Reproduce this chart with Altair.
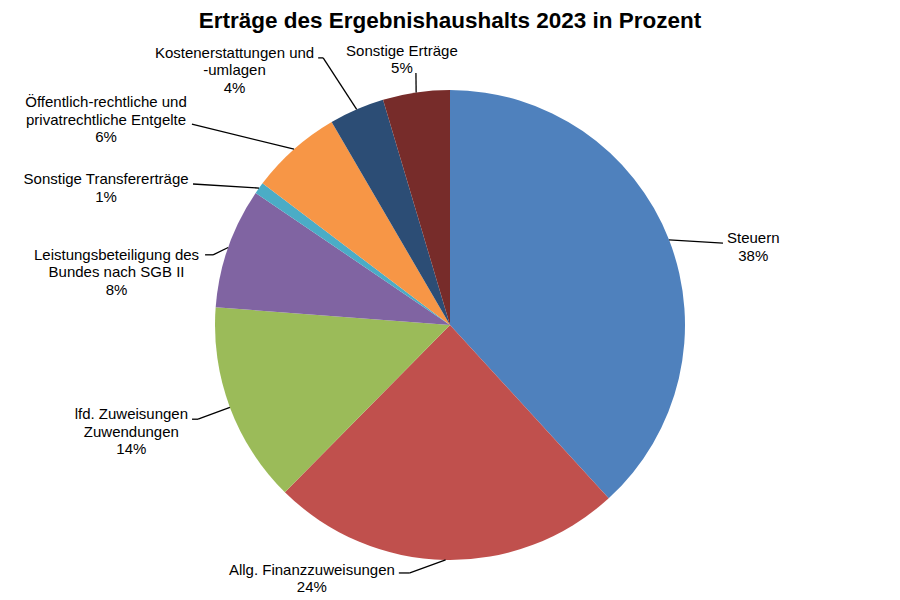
import math
import altair as alt
import pandas as pd

# ---------------- data ----------------
title_text = "Erträge des Ergebnishaushalts 2023 in Prozent"
categories = [
    "Steuern",
    "Allg. Finanzzuweisungen",
    "lfd. Zuweisungen\nZuwendungen",
    "Leistungsbeteiligung des\nBundes nach SGB II",
    "Sonstige Transfererträge",
    "Öffentlich-rechtliche und\nprivatrechtliche Entgelte",
    "Kostenerstattungen und\n-umlagen",
    "Sonstige Erträge",
]
values = [38.2, 24.2, 13.8, 8.3, 0.8, 6.3, 3.8, 4.6]
colors = ["#4F81BD", "#C0504D", "#9BBB59", "#8064A2",
          "#4BACC6", "#F79646", "#2C4D75", "#772C2A"]

# ---------------- layout / style ----------------
PAD_TOP = 36
W, H = 884, 550
CX, CY, R = 442, 281, 235
FONT = "Liberation Sans, Arial, Helvetica, sans-serif"
FS = 15
LH = 17.5
# leader-line elbow (angle deg, radius), tail, text side, gap, vertical shift
label_layout = [
    (73.3, 285.0, 0, "right", 4, -5),
    (189.2, 251.2, -11, "left", 4, -3),
    (249.5, 269.0, -6, "left", 4, -5),
    (286.5, 247.1, -8, "left", 6, 0),
    (298.75, 293.1, 0, "left", 4, -5),
    (307.9, 327.1, 0, "left", 5, -22),
    (334.6, 295.7, -5, "left", 4, -5),
    (352.3, 254.3, 0, "above", -14, -22),
]

ARIAL = {
    'a': 556, 'b': 556, 'c': 500, 'd': 556, 'e': 556, 'f': 278, 'g': 556, 'h': 556,
    'i': 222, 'j': 222, 'k': 500, 'l': 222, 'm': 833, 'n': 556, 'o': 556, 'p': 556,
    'q': 556, 'r': 333, 's': 500, 't': 278, 'u': 556, 'v': 500, 'w': 722, 'x': 500,
    'y': 500, 'z': 500, ' ': 278, '-': 333, '.': 278, '%': 889, 'ä': 556, 'ö': 556,
    'A': 667, 'B': 667, 'C': 722, 'D': 722, 'E': 667, 'F': 611, 'G': 778, 'H': 722,
    'I': 278, 'K': 667, 'L': 556, 'S': 667, 'T': 611, 'Z': 611, 'Ö': 778, 'P': 667,
}


def text_width(s):
    return sum(ARIAL.get(ch, 556) for ch in s) * FS / 1000.0


total = sum(values)
rows, segs, labels = [], [], []
cum = 0.0
for i, (cat, v) in enumerate(zip(categories, values)):
    rows.append({"cat": cat, "value": v, "idx": i})
    mid = math.radians((cum + v / 2) / total * 360)
    cum += v
    px, py = CX + R * math.sin(mid), CY - R * math.cos(mid)
    ea, er, tail, side, gap, dy = label_layout[i]
    a = math.radians(ea)
    ex, ey = CX + er * math.sin(a), CY - er * math.cos(a)
    tx, ty = ex + tail, ey
    segs.append({"x": px, "y": py, "x2": ex, "y2": ey})
    if tail:
        segs.append({"x": ex, "y": ey, "x2": tx, "y2": ty})
    text = cat + "\n" + f"{round(v)}%"
    w = max(text_width(l) for l in text.split("\n"))
    if side == "right":
        lx = tx + gap + w / 2
    elif side == "left":
        lx = tx - gap - w / 2
    else:
        lx = tx + gap
    labels.append({"label": text, "lx": lx, "ly": ty + dy + 5})

df = pd.DataFrame(rows)
seg_df = pd.DataFrame(segs)
lab_df = pd.DataFrame(labels)

pie = alt.Chart(df).mark_arc(radius=R).encode(
    theta=alt.Theta("value:Q", stack=True),
    color=alt.Color("cat:N", scale=alt.Scale(domain=categories, range=colors), legend=None),
    order=alt.Order("idx:Q"),
    x=alt.value(CX),
    y=alt.value(CY),
)

leaders = alt.Chart(seg_df).mark_rule(color="#000000", strokeWidth=1.3).encode(
    x=alt.X("x:Q", scale=None, axis=None),
    y=alt.Y("y:Q", scale=None, axis=None),
    x2="x2:Q",
    y2="y2:Q",
)

texts = alt.Chart(lab_df).mark_text(
    align="center", baseline="alphabetic", lineBreak="\n", lineHeight=LH,
    fontSize=FS, font=FONT, color="#000000",
).encode(
    x=alt.X("lx:Q", scale=None, axis=None),
    y=alt.Y("ly:Q", scale=None, axis=None),
    text="label:N",
)

chart = alt.layer(pie, leaders, texts).properties(
    width=W,
    height=H,
    autosize="none",
    padding={"left": 0, "right": 0, "top": PAD_TOP, "bottom": 0},
    title=alt.Title(title_text, font=FONT, fontSize=22.5, fontWeight="bold",
                    anchor="middle", color="#000000", offset=11),
).configure_view(stroke=None)

chart.save("out.html", embed_options={"renderer": "svg", "actions": False})
